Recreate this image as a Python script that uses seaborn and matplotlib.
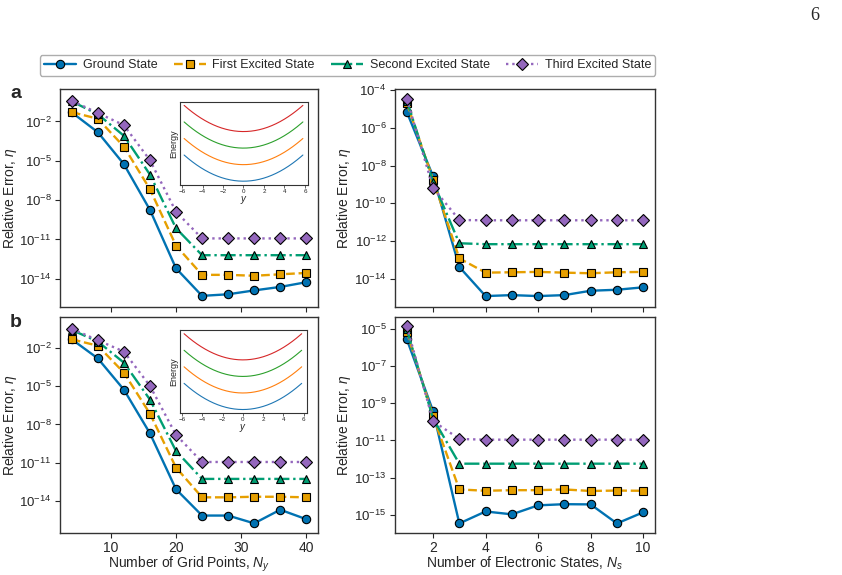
import numpy as np
import pandas as pd
import matplotlib
matplotlib.use("Agg")
import matplotlib.pyplot as plt
from matplotlib.ticker import NullLocator
import seaborn as sns

# x values
grid_points = [4, 8, 12, 16, 20, 24, 28, 32, 36, 40]
electronic_states = [1, 2, 3, 4, 5, 6, 7, 8, 9, 10]

# panel a, left (vs grid points)
a_grid_ground = [4.9e-2, 1.5e-3, 5.5e-6, 1.8e-9, 6.3e-14, 5.0e-16, 6.6e-16, 1.3e-15, 2.4e-15, 5.5e-15]
a_grid_first = [5.1e-2, 1.6e-2, 1.2e-4, 6.8e-8, 3.4e-12, 2.0e-14, 2.0e-14, 1.7e-14, 2.2e-14, 2.8e-14]
a_grid_second = [3.4e-1, 3.5e-2, 8.1e-4, 8.9e-7, 7.2e-11, 6.3e-13, 6.3e-13, 6.3e-13, 6.3e-13, 6.3e-13]
a_grid_third = [3.8e-1, 4.4e-2, 5.2e-3, 1.1e-5, 1.3e-9, 1.2e-11, 1.2e-11, 1.2e-11, 1.2e-11, 1.2e-11]

# panel a, right (vs electronic states)
a_states_ground = [7.1e-6, 2.7e-9, 4.2e-14, 1.2e-15, 1.35e-15, 1.2e-15, 1.35e-15, 2.3e-15, 2.6e-15, 3.5e-15]
a_states_first = [2.1e-5, 1.8e-9, 1.2e-13, 2.1e-14, 2.2e-14, 2.3e-14, 2.1e-14, 1.95e-14, 2.2e-14, 2.3e-14]
a_states_second = [2.8e-5, 1.4e-9, 7.6e-13, 6.8e-13, 6.8e-13, 6.8e-13, 6.8e-13, 6.8e-13, 6.8e-13, 6.8e-13]
a_states_third = [3.6e-5, 6.6e-10, 1.3e-11, 1.26e-11, 1.26e-11, 1.26e-11, 1.26e-11, 1.26e-11, 1.26e-11, 1.26e-11]

# panel b, left
b_grid_ground = [5.1e-2, 1.6e-3, 5.5e-6, 2.0e-9, 7.8e-14, 6.6e-16, 6.6e-16, 1.6e-16, 1.9e-15, 3.4e-16]
b_grid_first = [5.1e-2, 1.6e-2, 1.2e-4, 7.1e-8, 4.0e-12, 1.8e-14, 1.8e-14, 2.0e-14, 2.0e-14, 1.8e-14]
b_grid_second = [2.8e-1, 3.4e-2, 7.4e-4, 9.1e-7, 8.1e-11, 5.1e-13, 5.1e-13, 5.1e-13, 5.1e-13, 5.1e-13]
b_grid_third = [3.5e-1, 4.3e-2, 5.5e-3, 1.1e-5, 1.5e-9, 1.1e-11, 1.1e-11, 1.1e-11, 1.1e-11, 1.1e-11]

# panel b, right
b_states_ground = [2.8e-6, 3.8e-10, 3.4e-16, 1.5e-15, 1.05e-15, 3.2e-15, 3.7e-15, 3.6e-15, 3.4e-16, 1.35e-15]
b_states_first = [7.2e-6, 2.0e-10, 2.3e-14, 1.95e-14, 2.1e-14, 2.1e-14, 2.3e-14, 1.9e-14, 2.0e-14, 1.95e-14]
b_states_second = [9.5e-6, 1.5e-10, 5.6e-13, 5.6e-13, 5.6e-13, 5.6e-13, 5.6e-13, 5.6e-13, 5.6e-13, 5.6e-13]
b_states_third = [1.4e-5, 1.1e-10, 1.2e-11, 1.1e-11, 1.1e-11, 1.1e-11, 1.1e-11, 1.1e-11, 1.1e-11, 1.1e-11]

state_names = ["Ground State", "First Excited State", "Second Excited State", "Third Excited State"]

# inset: harmonic potential curves, E = k*y^2 + offset
inset_offsets = [0, 1, 2, 3]
inset_curvature = 0.047
inset_colors = ["#1f77b4", "#ff7f0e", "#2ca02c", "#d62728"]

# styles
colors = ["#0072B2", "#E69F00", "#009E73", "#9467BD"]
markers = ["o", "s", "^", "D"]
linestyles = ["-", "--", "-.", ":"]

sns.set_style("ticks")
plt.rcParams["font.family"] = ["Liberation Sans", "DejaVu Sans"]
plt.rcParams["mathtext.fontset"] = "custom"
plt.rcParams["mathtext.rm"] = "Liberation Sans"
plt.rcParams["mathtext.it"] = "Liberation Sans:italic"
plt.rcParams["mathtext.bf"] = "Liberation Sans:bold"

fig = plt.figure(figsize=(8.42, 5.75), dpi=100)

ax_al = fig.add_axes([0.0713, 0.4661, 0.3064, 0.3786])
ax_ar = fig.add_axes([0.4691, 0.4661, 0.3088, 0.3786])
ax_bl = fig.add_axes([0.0713, 0.0725, 0.3064, 0.3767])
ax_br = fig.add_axes([0.4691, 0.0725, 0.3088, 0.3767])


def draw_panel(ax, x, series):
    ax.set_yscale("log")
    for i, vals in enumerate(series):
        sns.lineplot(x=x, y=vals, ax=ax, color=colors[i], marker=markers[i],
                     linestyle=linestyles[i], linewidth=1.7, markersize=6,
                     markeredgecolor="black", markeredgewidth=0.8,
                     label=state_names[i], errorbar=None, zorder=3 + i)
    if ax.get_legend() is not None:
        ax.get_legend().remove()
    ax.yaxis.set_minor_locator(NullLocator())
    ax.tick_params(axis="x", labelsize=10, direction="out", length=3.5, width=0.8, pad=2)
    ax.tick_params(axis="y", labelsize=9.5, direction="out", length=3.5, width=0.8, pad=2.5)
    ax.set_ylabel(r"Relative Error, $\eta$", fontsize=10)
    ax.yaxis.set_label_coords(-0.16, 0.5)
    for s in ax.spines.values():
        s.set_visible(True)
        s.set_color("#333333")
        s.set_linewidth(1.0)


draw_panel(ax_al, grid_points, [a_grid_ground, a_grid_first, a_grid_second, a_grid_third])
draw_panel(ax_ar, electronic_states, [a_states_ground, a_states_first, a_states_second, a_states_third])
draw_panel(ax_bl, grid_points, [b_grid_ground, b_grid_first, b_grid_second, b_grid_third])
draw_panel(ax_br, electronic_states, [b_states_ground, b_states_first, b_states_second, b_states_third])

# axis ranges and ticks
for ax in [ax_al, ax_bl]:
    ax.set_xlim(2.2, 41.8)
    ax.set_xticks([10, 20, 30, 40])
    ax.set_yticks([1e-2, 1e-5, 1e-8, 1e-11, 1e-14])
for ax in [ax_ar, ax_br]:
    ax.set_xlim(0.55, 10.45)
    ax.set_xticks([2, 4, 6, 8, 10])
ax_ar.set_yticks([1e-4, 1e-6, 1e-8, 1e-10, 1e-12, 1e-14])
ax_br.set_yticks([1e-5, 1e-7, 1e-9, 1e-11, 1e-13, 1e-15])

ax_al.set_ylim(10 ** -16.15, 10 ** 0.45)
ax_ar.set_ylim(10 ** -15.5, 10 ** -3.95)
ax_bl.set_ylim(10 ** -16.58, 10 ** 0.49)
ax_br.set_ylim(10 ** -16.0, 10 ** -4.34)

for ax in [ax_al, ax_ar]:
    ax.set_xticklabels([])
    ax.set_xlabel("")
ax_bl.set_xlabel(r"Number of Grid Points, $N_y$", fontsize=10, labelpad=0)
ax_br.set_xlabel(r"Number of Electronic States, $N_s$", fontsize=10, labelpad=0)

# panel letters
fig.text(0.012, 0.83, "a", fontsize=14, fontweight="bold")
fig.text(0.012, 0.432, "b", fontsize=14, fontweight="bold")

# insets with the potential energy curves
inset_y = np.linspace(-5.8, 5.8, 200)
for rect in [[0.2138, 0.6783, 0.152, 0.145], [0.2138, 0.2812, 0.1505, 0.145]]:
    ins = fig.add_axes(rect)
    for off, c in zip(inset_offsets, inset_colors):
        sns.lineplot(x=inset_y, y=inset_curvature * inset_y ** 2 + off, ax=ins,
                     color=c, linewidth=0.8, errorbar=None)
    ins.set_xlim(-6.2, 6.3)
    ins.set_xticks([-6, -4, -2, 0, 2, 4, 6])
    ins.set_yticks([])
    ins.tick_params(labelsize=4.5, length=2, width=0.5, pad=1)
    ins.set_ylabel("Energy", fontsize=6.5, labelpad=1)
    ins.set_xlabel(r"$y$", fontsize=7, labelpad=0)
    for s in ins.spines.values():
        s.set_visible(True)
        s.set_color("#333333")
        s.set_linewidth(0.8)

# shared legend on top
handles, labels = ax_al.get_legend_handles_labels()
fig.legend(handles, labels, loc="upper center", bbox_to_anchor=(0.4127, 0.915),
           ncol=4, fontsize=9, frameon=True, edgecolor="#999999", fancybox=True,
           handlelength=2.6, columnspacing=1.3, handletextpad=0.5,
           borderpad=0.35)

# page number
fig.text(0.962, 0.965, "6", fontsize=13, family="Liberation Serif")

fig.savefig("out.png", dpi=100)
